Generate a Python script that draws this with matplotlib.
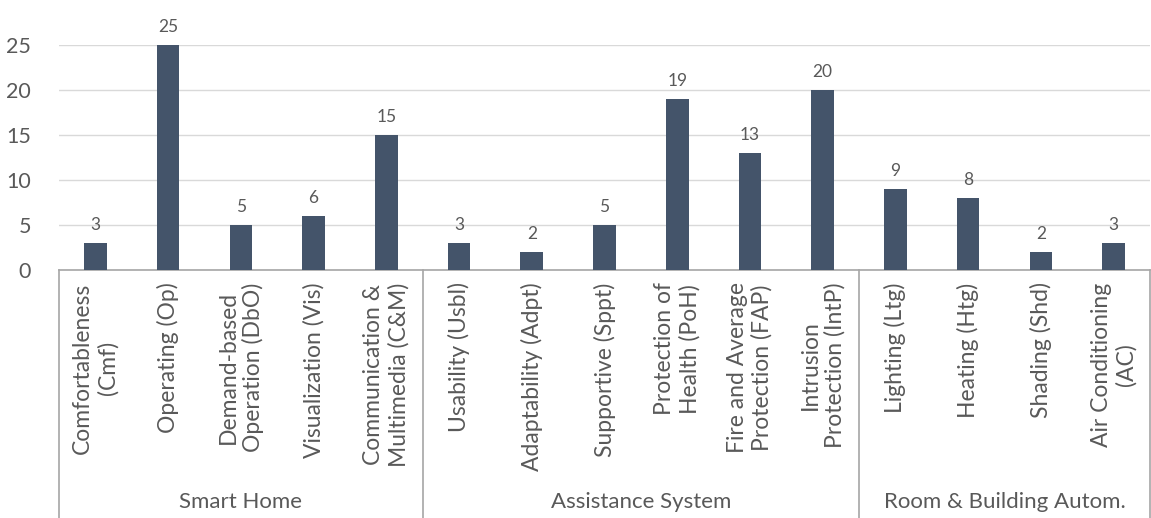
import matplotlib
matplotlib.use("Agg")
import matplotlib.pyplot as plt
import numpy as np

categories = [
    "Comfortableness\n(Cmf)", "Operating (Op)", "Demand-based\nOperation (DbO)",
    "Visualization (Vis)", "Communication &\nMultimedia (C&M)",
    "Usability (Usbl)", "Adaptability (Adpt)", "Supportive (Sppt)",
    "Protection of\nHealth (PoH)", "Fire and Average\nProtection (FAP)",
    "Intrusion\nProtection (IntP)",
    "Lighting (Ltg)", "Heating (Htg)", "Shading (Shd)", "Air Conditioning\n(AC)",
]
values = [3, 25, 5, 6, 15, 3, 2, 5, 19, 13, 20, 9, 8, 2, 3]
groups = ["Smart Home", "Assistance System", "Room & Building Autom."]
group_sizes = [5, 6, 4]
yticks = [0, 5, 10, 15, 20, 25]

plt.rcParams['font.family'] = ['Lato', 'DejaVu Sans']
txt = '#595959'
bar_c = '#44546A'
line_c = '#A6A6A6'

fig = plt.figure(figsize=(11.51, 5.18), dpi=100)
ax = fig.add_axes([59/1151, 248/518, (1150-59)/1151, 225/518])

x = np.arange(len(values))
ax.bar(x, values, width=0.31, color=bar_c, zorder=3)
ax.set_xlim(-0.5, len(values) - 0.5)
ax.set_ylim(0, 25)
ax.set_yticks(yticks)
ax.tick_params(axis='y', length=0, pad=20, labelsize=15.5, labelcolor=txt)
ax.set_xticks([])
ax.grid(axis='y', color='#D9D9D9', linewidth=1, zorder=0)
for s in ['top', 'right', 'left']:
    ax.spines[s].set_visible(False)
ax.spines['bottom'].set_color(line_c)
ax.spines['bottom'].set_linewidth(1.2)

for xi, v in zip(x, values):
    ax.annotate(str(v), (xi, v), xytext=(0, 7), textcoords='offset points',
                ha='center', va='bottom', fontsize=12.5, color=txt, clip_on=False)

trans = ax.get_xaxis_transform()
# category labels
for xi, lab in zip(x, categories):
    ax.text(xi, -0.055, lab, rotation=90, ha='center', va='top',
            multialignment='center', fontsize=16.5, color=txt, transform=trans,
            linespacing=1.2)

# group separators and labels
bottom_y = -248/225
bounds = np.concatenate([[0], np.cumsum(group_sizes)]) - 0.5
for b in bounds:
    ax.plot([b, b], [0, bottom_y], transform=trans, color=line_c,
            linewidth=1.2, clip_on=False)
for i, g in enumerate(groups):
    c = (bounds[i] + bounds[i + 1]) / 2
    ax.text(c, -232/225, g, ha='center', va='center', fontsize=16,
            color=txt, transform=trans)

fig.savefig('out.png', dpi=100)
